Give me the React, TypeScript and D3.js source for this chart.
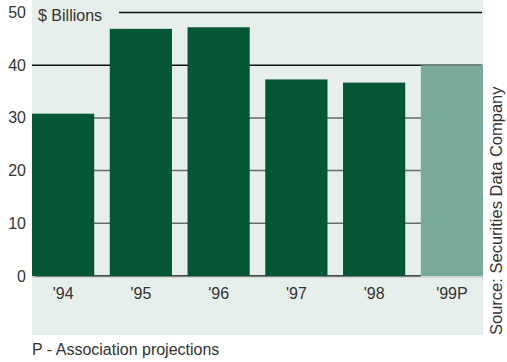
import React from "react";
import * as d3 from "d3";

const categories = ["'94", "'95", "'96", "'97", "'98", "'99P"];
const values = [30.8, 46.9, 47.2, 37.3, 36.7, 40];
const projected = [false, false, false, false, false, true];
const yTicks = [0, 10, 20, 30, 40, 50];
const darkTicks = [40, 50];

const W = 507;
const H = 362;
const FONT = "'Liberation Sans', Arial, sans-serif";

export default function App() {
  const panel = { left: 32, right: 483, top: 0, bottom: 335 };
  const x = d3
    .scaleBand<string>()
    .domain(categories)
    .range([panel.left, panel.right])
    .paddingInner(0.2)
    .paddingOuter(0);
  const y = d3.scaleLinear().domain([0, 50]).range([276, 12.5]);

  const lastX = x(categories[categories.length - 1]) as number;

  return (
    <svg
      width={W}
      height={H}
      style={{ position: "absolute", left: 0, top: 0, display: "block" }}
      fontFamily={FONT}
    >
      <rect x={0} y={0} width={W} height={H} fill="#ffffff" />
      <rect
        x={panel.left}
        y={panel.top}
        width={panel.right - panel.left}
        height={panel.bottom - panel.top}
        fill="#e7efec"
      />
      {yTicks
        .filter((t) => t > 0)
        .map((t) => (
          <line
            key={t}
            x1={t === 50 ? 119 : panel.left}
            x2={panel.right - 1}
            y1={y(t)}
            y2={y(t)}
            stroke={darkTicks.includes(t) ? "#111" : "#6a6a6a"}
            strokeWidth={1.5}
          />
        ))}
      <line
        x1={35}
        x2={lastX}
        y1={y(0)}
        y2={y(0)}
        stroke="#111"
        strokeWidth={1.5}
      />
      {categories.map((c, i) => (
        <rect
          key={c}
          x={x(c)}
          y={y(values[i])}
          width={x.bandwidth()}
          height={y(0) - y(values[i])}
          fill={projected[i] ? "#7aab99" : "#035735"}
        />
      ))}
      <line
        x1={panel.left}
        x2={panel.right}
        y1={y(0) + 1}
        y2={y(0) + 1}
        stroke="#b5bcb9"
        strokeWidth={1}
      />
      {yTicks.map((t) => (
        <text
          key={t}
          x={26}
          y={y(t) + 5.5}
          textAnchor="end"
          fontSize={16}
          fill="#333"
        >
          {t}
        </text>
      ))}
      <text x={38} y={21} fontSize={16} fill="#333">
        $ Billions
      </text>
      {categories.map((c) => (
        <text
          key={c}
          x={(x(c) as number) + x.bandwidth() / 2}
          y={299}
          textAnchor="middle"
          fontSize={16}
          fill="#333"
        >
          {c}
        </text>
      ))}
      <text x={32} y={355} fontSize={16} fill="#333">
        P - Association projections
      </text>
      <text
        transform="translate(502,335) rotate(-90)"
        fontSize={16.5}
        fill="#333"
      >
        Source: Securities Data Company
      </text>
    </svg>
  );
}
